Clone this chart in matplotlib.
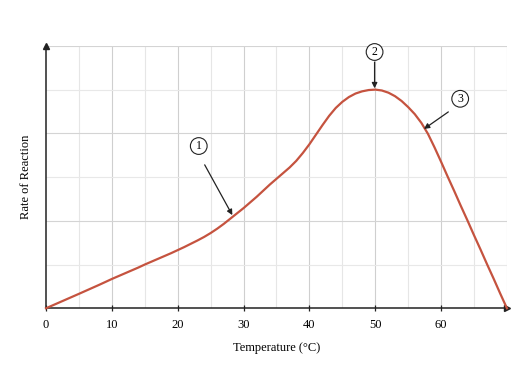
import matplotlib
matplotlib.use("Agg")
import matplotlib.pyplot as plt
import numpy as np

# temperature (deg C) and rate of reaction, 1 degree apart
temps = list(range(0, 71))
rates = [0.0, 0.066, 0.132, 0.198, 0.264, 0.33, 0.397, 0.464, 0.531, 0.60,
         0.67, 0.735, 0.80, 0.865, 0.93, 1.0, 1.065, 1.13, 1.195, 1.26,
         1.33, 1.40, 1.475, 1.55, 1.63, 1.72, 1.82, 1.93, 2.05, 2.17,
         2.29, 2.42, 2.55, 2.69, 2.83, 2.96, 3.09, 3.22, 3.37, 3.55,
         3.75, 3.97, 4.19, 4.40, 4.58, 4.72, 4.83, 4.91, 4.96, 4.99,
         5.0, 4.98, 4.93, 4.85, 4.74, 4.60, 4.44, 4.24, 3.99, 3.68,
         3.35, 3.01, 2.68, 2.34, 2.01, 1.67, 1.34, 1.0, 0.67, 0.33,
         0.0]

x_ticks = [0, 10, 20, 30, 40, 50, 60]

# callouts: label, text position, arrow start, arrow tip
callouts = [
    ("1", (23.2, 3.71), (24.1, 3.28), (28.3, 2.13)),
    ("2", (49.9, 5.86), (49.9, 5.63), (49.9, 5.03)),
    ("3", (62.9, 4.79), (61.1, 4.49), (57.4, 4.10)),
]

plt.rcParams["font.family"] = ["Liberation Serif", "DejaVu Serif"]

fig = plt.figure(figsize=(5.25, 3.67), dpi=100)
ax = fig.add_axes([0.0876, 0.16, 0.878, 0.715])

ax.set_xlim(0, 70)
ax.set_ylim(0, 6)

# grid
for xv in np.arange(5, 71, 5):
    c = "#cfcfcf" if xv % 10 == 0 else "#e6e6e6"
    ax.axvline(xv, color=c, lw=0.8, zorder=0)
for yv in range(1, 7):
    c = "#d4d4d4" if yv % 2 == 0 else "#e8e8e8"
    ax.axhline(yv, color=c, lw=0.8, zorder=0)

ax.plot(temps, rates, color="#c5533f", lw=1.6, zorder=3, clip_on=False,
        solid_joinstyle="round")

for s in ["top", "right"]:
    ax.spines[s].set_visible(False)
for s in ["left", "bottom"]:
    ax.spines[s].set_color("#222222")
    ax.spines[s].set_linewidth(1.1)
ax.plot(0, 1, "^", color="#222222", ms=4.5, transform=ax.transAxes, clip_on=False)
ax.plot(1, 0, ">", color="#222222", ms=4.5, transform=ax.transAxes, clip_on=False)

ax.set_xticks(x_ticks)
ax.set_yticks([])
ax.tick_params(axis="x", direction="inout", length=5, width=0.9,
               labelsize=9, pad=5, color="#222222")

ax.set_xlabel("Temperature (°C)", fontsize=9, labelpad=8)
ax.set_ylabel("Rate of Reaction", fontsize=9, labelpad=10)

for label, txt, start, tip in callouts:
    ax.text(txt[0], txt[1], label, fontsize=8.5, ha="center", va="center",
            bbox=dict(boxstyle="circle,pad=0.2", fc="white", ec="#222222", lw=0.8),
            zorder=5, clip_on=False)
    ax.annotate("", xy=tip, xytext=start,
                arrowprops=dict(arrowstyle="-|>", color="#222222", lw=0.9,
                                mutation_scale=8, shrinkA=0, shrinkB=0),
                zorder=5, annotation_clip=False)

fig.savefig("out.png", dpi=100)
